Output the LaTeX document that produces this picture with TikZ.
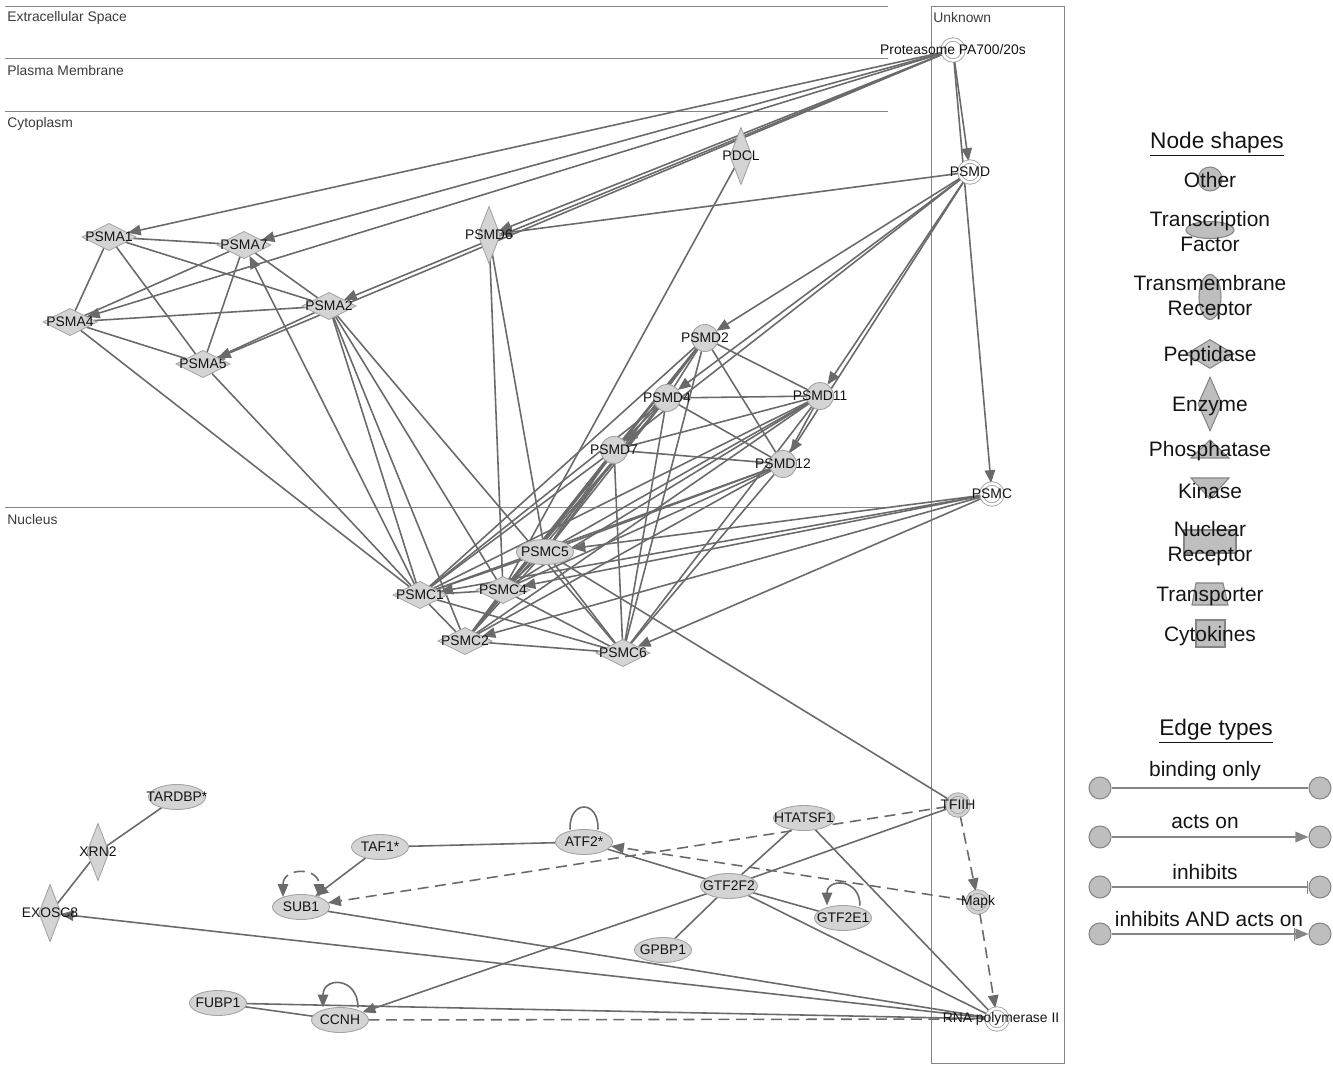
\documentclass[tikz,border=0pt]{standalone}
\usepackage{fontspec}
\setmainfont{Liberation Sans}
\usetikzlibrary{arrows.meta,shapes.geometric,backgrounds}
\definecolor{Edge}{HTML}{6A6A6A}
\definecolor{Frame}{HTML}{858585}
\definecolor{NodeFill}{HTML}{D4D4D4}
\definecolor{NodeLine}{HTML}{A3A3A3}
\definecolor{LegFill}{HTML}{BEBEBE}
\definecolor{LegLine}{HTML}{858585}
\definecolor{Ink}{HTML}{141414}
\definecolor{Muted}{HTML}{3C3C3C}

\begin{document}
\begin{tikzpicture}[x=0.02cm,y=-0.02cm,
  mol/.style={draw=NodeLine,fill=NodeFill,line width=0.5pt,inner sep=0pt,outer sep=0pt},
  pep/.style={mol,diamond,minimum width=1.08cm,minimum height=0.54cm},
  enz/.style={mol,diamond,minimum width=0.44cm,minimum height=1.14cm},
  oth/.style={mol,circle,minimum size=0.54cm},
  ovl/.style={mol,ellipse,minimum width=1.14cm,minimum height=0.5cm},
  cplx/.style={circle,draw=NodeLine,fill=white,double=white,double distance=0.05cm,line width=0.5pt,minimum size=0.42cm,inner sep=0pt},
  cplxg/.style={cplx,fill=NodeFill,double=NodeFill},
  lbl/.style={font=\fontsize{7.9}{9}\selectfont,text=Ink,inner sep=0pt},
  comp/.style={font=\fontsize{7.9}{9}\selectfont,text=Muted,anchor=west,inner sep=0pt},
  binds/.style={draw=Edge,line width=0.9pt},
  acts/.style={binds,-{Triangle[length=2.6mm,width=2.1mm]}},
  brk/.style={binds,dash pattern=on 2.2mm off 1.3mm},
  lgd/.style={draw=LegLine,fill=LegFill,line width=0.6pt,inner sep=0pt},
  lgtxt/.style={font=\fontsize{11.9}{14.2}\selectfont,text=Ink,align=center,inner sep=0pt},
  lghead/.style={font=\fontsize{12.9}{15}\selectfont,text=Ink,inner sep=0pt}]
\useasboundingbox (0,0) rectangle (1333,1067);

\node[comp] (lext) at (7,18) {Extracellular Space};
\node[comp] (lpla) at (7,71) {Plasma Membrane};
\node[comp] (lcyt) at (7,124) {Cytoplasm};
\node[comp] (lnuc) at (7,520) {Nucleus};
\node[comp] (lunk) at (933,18) {Unknown};

\node[cplx,label={[lbl]center:Proteasome PA700/20s}] (prot) at (953,50) {};
\node[cplx,label={[lbl]center:PSMD}] (psmd) at (970,172) {};
\node[cplx,label={[lbl]center:PSMC}] (psmc) at (992,494) {};
\node[cplxg,label={[lbl]center:TFIIH}] (tfiih) at (958,805) {};
\node[cplxg,label={[lbl]center:Mapk}] (mapk) at (978,902) {};
\node[cplx,label={[lbl,xshift=0.08cm]center:RNA polymerase II}] (rnap) at (997,1019) {};

\node[enz,label={[lbl]center:PDCL}] (pdcl) at (741,156) {};
\node[enz,label={[lbl]center:PSMD6}] (psmd6) at (489,235) {};
\node[pep,label={[lbl]center:PSMA1}] (psma1) at (109,237) {};
\node[pep,label={[lbl]center:PSMA7}] (psma7) at (244,245) {};
\node[pep,label={[lbl]center:PSMA2}] (psma2) at (329,306) {};
\node[pep,label={[lbl]center:PSMA4}] (psma4) at (70,322) {};
\node[pep,label={[lbl]center:PSMA5}] (psma5) at (203,364) {};

\node[oth,label={[lbl]center:PSMD2}] (psmd2) at (705,338) {};
\node[oth,label={[lbl]center:PSMD4}] (psmd4) at (667,398) {};
\node[oth,label={[lbl]center:PSMD11}] (psmd11) at (820,396) {};
\node[oth,label={[lbl]center:PSMD7}] (psmd7) at (614,450) {};
\node[oth,label={[lbl]center:PSMD12}] (psmd12) at (783,464) {};

\node[ovl,label={[lbl]center:PSMC5}] (psmc5) at (545,552) {};
\node[pep,label={[lbl]center:PSMC1}] (psmc1) at (420,595) {};
\node[pep,label={[lbl]center:PSMC4}] (psmc4) at (503,590) {};
\node[pep,label={[lbl]center:PSMC2}] (psmc2) at (465,641) {};
\node[pep,label={[lbl]center:PSMC6}] (psmc6) at (623,653) {};

\node[ovl,label={[lbl]center:TARDBP*}] (tardbp) at (177,797) {};
\node[enz,label={[lbl]center:XRN2}] (xrn) at (98,852) {};
\node[enz,label={[lbl]center:EXOSC8}] (exosc) at (50,913) {};
\node[ovl,label={[lbl]center:TAF1*}] (taf) at (380,847) {};
\node[ovl,label={[lbl]center:SUB1}] (sub) at (301,907) {};
\node[ovl,label={[lbl]center:ATF2*}] (atf) at (584,842) {};
\node[ovl,minimum width=1.22cm,label={[lbl]center:HTATSF1}] (htat) at (804,818) {};
\node[ovl,label={[lbl]center:GTF2F2}] (gtff) at (729,886) {};
\node[ovl,label={[lbl]center:GTF2E1}] (gtfe) at (843,918) {};
\node[ovl,label={[lbl]center:GPBP1}] (gpbp) at (663,950) {};
\node[ovl,label={[lbl]center:FUBP1}] (fubp) at (218,1003) {};
\node[ovl,label={[lbl]center:CCNH}] (ccnh) at (340,1020) {};

\begin{scope}[on background layer]
\draw[Frame,line width=0.5pt] (5,6) -- (888,6) (5,58) -- (888,58) (5,111) -- (888,111) (5,507) -- (888,507);
\draw[Frame,line width=0.5pt] (931,6) rectangle (1064,1063);

\foreach \dst in {psma1,psma7,psma4,psma2,psma5,psmd6,psmd,psmc}
  \draw[acts] (prot) -- (\dst);
\foreach \dst in {psmd6,psmd2,psmd4,psmd7,psmd11,psmd12}
  \draw[acts] (psmd) -- (\dst);
\foreach \dst in {psmc5,psmc4,psmc1,psmc2,psmc6}
  \draw[acts] (psmc) -- (\dst);
\foreach \src/\dst in {psma1/psma7,psma1/psma4,psma1/psma5,psma1/psma2,psma7/psma4,psma7/psma5,psma7/psma2,psma4/psma2,psma4/psma5,psma2/psma5,
    psma4/psmc1,psma5/psmc1,psma2/psmc1,psma2/psmc2,psma2/psmc4,psma2/psmc6,psmd6/psmc4,psmd6/psmc5,pdcl/psmc4,
    psmd2/psmd4,psmd2/psmd7,psmd2/psmd11,psmd2/psmd12,psmd4/psmd7,psmd4/psmd11,psmd4/psmd12,psmd7/psmd11,psmd7/psmd12,psmd11/psmd12,
    psmc5/psmc1,psmc5/psmc4,psmc5/psmc2,psmc5/psmc6,psmc1/psmc4,psmc1/psmc2,psmc1/psmc6,psmc4/psmc2,psmc4/psmc6,psmc2/psmc6,psmc5/tfiih}
  \draw[binds] (\src) -- (\dst);
\foreach \src in {psmd2,psmd4,psmd7,psmd11,psmd12}
  \foreach \dst in {psmc1,psmc2,psmc4,psmc5,psmc6}
    \draw[binds] (\src) -- (\dst);
\draw[acts] (psmc1) -- (psma7);

\foreach \src/\dst in {tardbp/xrn,xrn/exosc,taf/atf,gtff/atf,htat/gtff,htat/rnap,tfiih/gtff,gtff/gtfe,gtff/gpbp,gtff/rnap,sub/rnap,fubp/ccnh,fubp/rnap}
  \draw[binds] (\src) -- (\dst);
\draw[acts] (rnap) -- (exosc);
\draw[acts] (taf) -- (sub);
\draw[acts] (gtff) -- (ccnh);
\draw[brk,-{Triangle[length=2.6mm,width=2.1mm]}] (tfiih) -- (sub);
\draw[brk,-{Triangle[length=2.6mm,width=2.1mm]}] (mapk) -- (atf);
\draw[brk,-{Triangle[length=2.6mm,width=2.1mm]}] (tfiih) -- (mapk);
\draw[brk,-{Triangle[length=2.6mm,width=2.1mm]}] (mapk) -- (rnap);
\draw[brk] (ccnh) -- (rnap);

\draw[binds] ([xshift=-0.28cm]atf.north) .. controls +(92:0.6cm) and +(88:0.6cm) .. ([xshift=0.28cm]atf.north);
\draw[brk,{Triangle[length=2.6mm,width=2.1mm]}-{Triangle[length=2.6mm,width=2.1mm]}] ([xshift=-0.36cm,yshift=-0.05cm]sub.north) .. controls +(90:0.6cm) and +(90:0.6cm) .. ([xshift=0.36cm,yshift=-0.05cm]sub.north);
\draw[acts] ([xshift=0.36cm]ccnh.north) .. controls +(90:0.62cm) and +(90:0.62cm) .. ([xshift=-0.34cm]ccnh.north);
\draw[acts] ([xshift=0.34cm]gtfe.north) .. controls +(90:0.55cm) and +(90:0.55cm) .. ([xshift=-0.32cm]gtfe.north);
\end{scope}

\node[lghead] (hshape) at (1217,144) {\underline{Node shapes}};
\node[lgd,circle,minimum size=0.48cm] (kother) at (1210,179) {};
\node[lgd,ellipse,minimum width=0.96cm,minimum height=0.34cm] (ktf) at (1210,230) {};
\node[lgd,ellipse,minimum width=0.44cm,minimum height=0.9cm] (ktr) at (1210,297) {};
\node[lgd,diamond,minimum width=0.96cm,minimum height=0.58cm] (kpep) at (1210,354) {};
\node[lgd,diamond,minimum width=0.48cm,minimum height=1.08cm] (kenz) at (1210,404) {};
\draw[lgd] (1191,458) -- (1210,440) -- (1229,458) -- cycle;
\draw[lgd] (1191,478) -- (1229,478) -- (1210,499) -- cycle;
\draw[lgd] (1184,530) rectangle (1236,553);
\draw[lgd] (1196,583) -- (1223,583) -- (1228,605) -- (1192,605) -- cycle;
\draw[lgd] (1196,620) rectangle (1225,647);
\node[lgtxt] (tother) at (1210,180) {Other};
\node[lgtxt] (ttf) at (1210,232) {Transcription\\Factor};
\node[lgtxt] (ttr) at (1210,298) {Transmembrane\\Receptor};
\node[lgtxt] (tpep) at (1210,356) {Peptidase};
\node[lgtxt] (tenz) at (1210,406) {Enzyme};
\node[lgtxt] (tpho) at (1210,451) {Phosphatase};
\node[lgtxt] (tkin) at (1210,491) {Kinase};
\node[lgtxt] (tnuc) at (1210,544) {Nuclear\\Receptor};
\node[lgtxt] (ttra) at (1210,596) {Transporter};
\node[lgtxt] (tcyt) at (1210,636) {Cytokines};

\node[lghead] (hedge) at (1216,731) {\underline{Edge types}};
\node[lgtxt] (tbind) at (1205,771) {binding only};
\node[lgtxt] (tacts) at (1205,822) {acts on};
\node[lgtxt] (tinh) at (1205,872) {inhibits};
\node[lgtxt] (tboth) at (1209,919) {inhibits AND acts on};
\node[lgd,circle,minimum size=0.44cm] (ba) at (1100,788) {};
\node[lgd,circle,minimum size=0.44cm] (bb) at (1320,788) {};
\node[lgd,circle,minimum size=0.44cm] (aa) at (1100,837) {};
\node[lgd,circle,minimum size=0.44cm] (ab) at (1320,837) {};
\node[lgd,circle,minimum size=0.44cm] (ia) at (1100,887) {};
\node[lgd,circle,minimum size=0.44cm] (ib) at (1320,887) {};
\node[lgd,circle,minimum size=0.44cm] (ca) at (1100,934) {};
\node[lgd,circle,minimum size=0.44cm] (cb) at (1320,934) {};
\draw[binds,draw=LegLine] (ba) -- (bb);
\draw[acts,draw=LegLine,fill=LegLine] (aa) -- (ab);
\draw[binds,draw=LegLine,-{Bar[width=2.6mm]}] (ia) -- (ib);
\draw[binds,draw=LegLine,-{Bar[width=2.6mm]Triangle[length=2.6mm,width=2.1mm]}] (ca) -- (cb);
\end{tikzpicture}
\end{document}
